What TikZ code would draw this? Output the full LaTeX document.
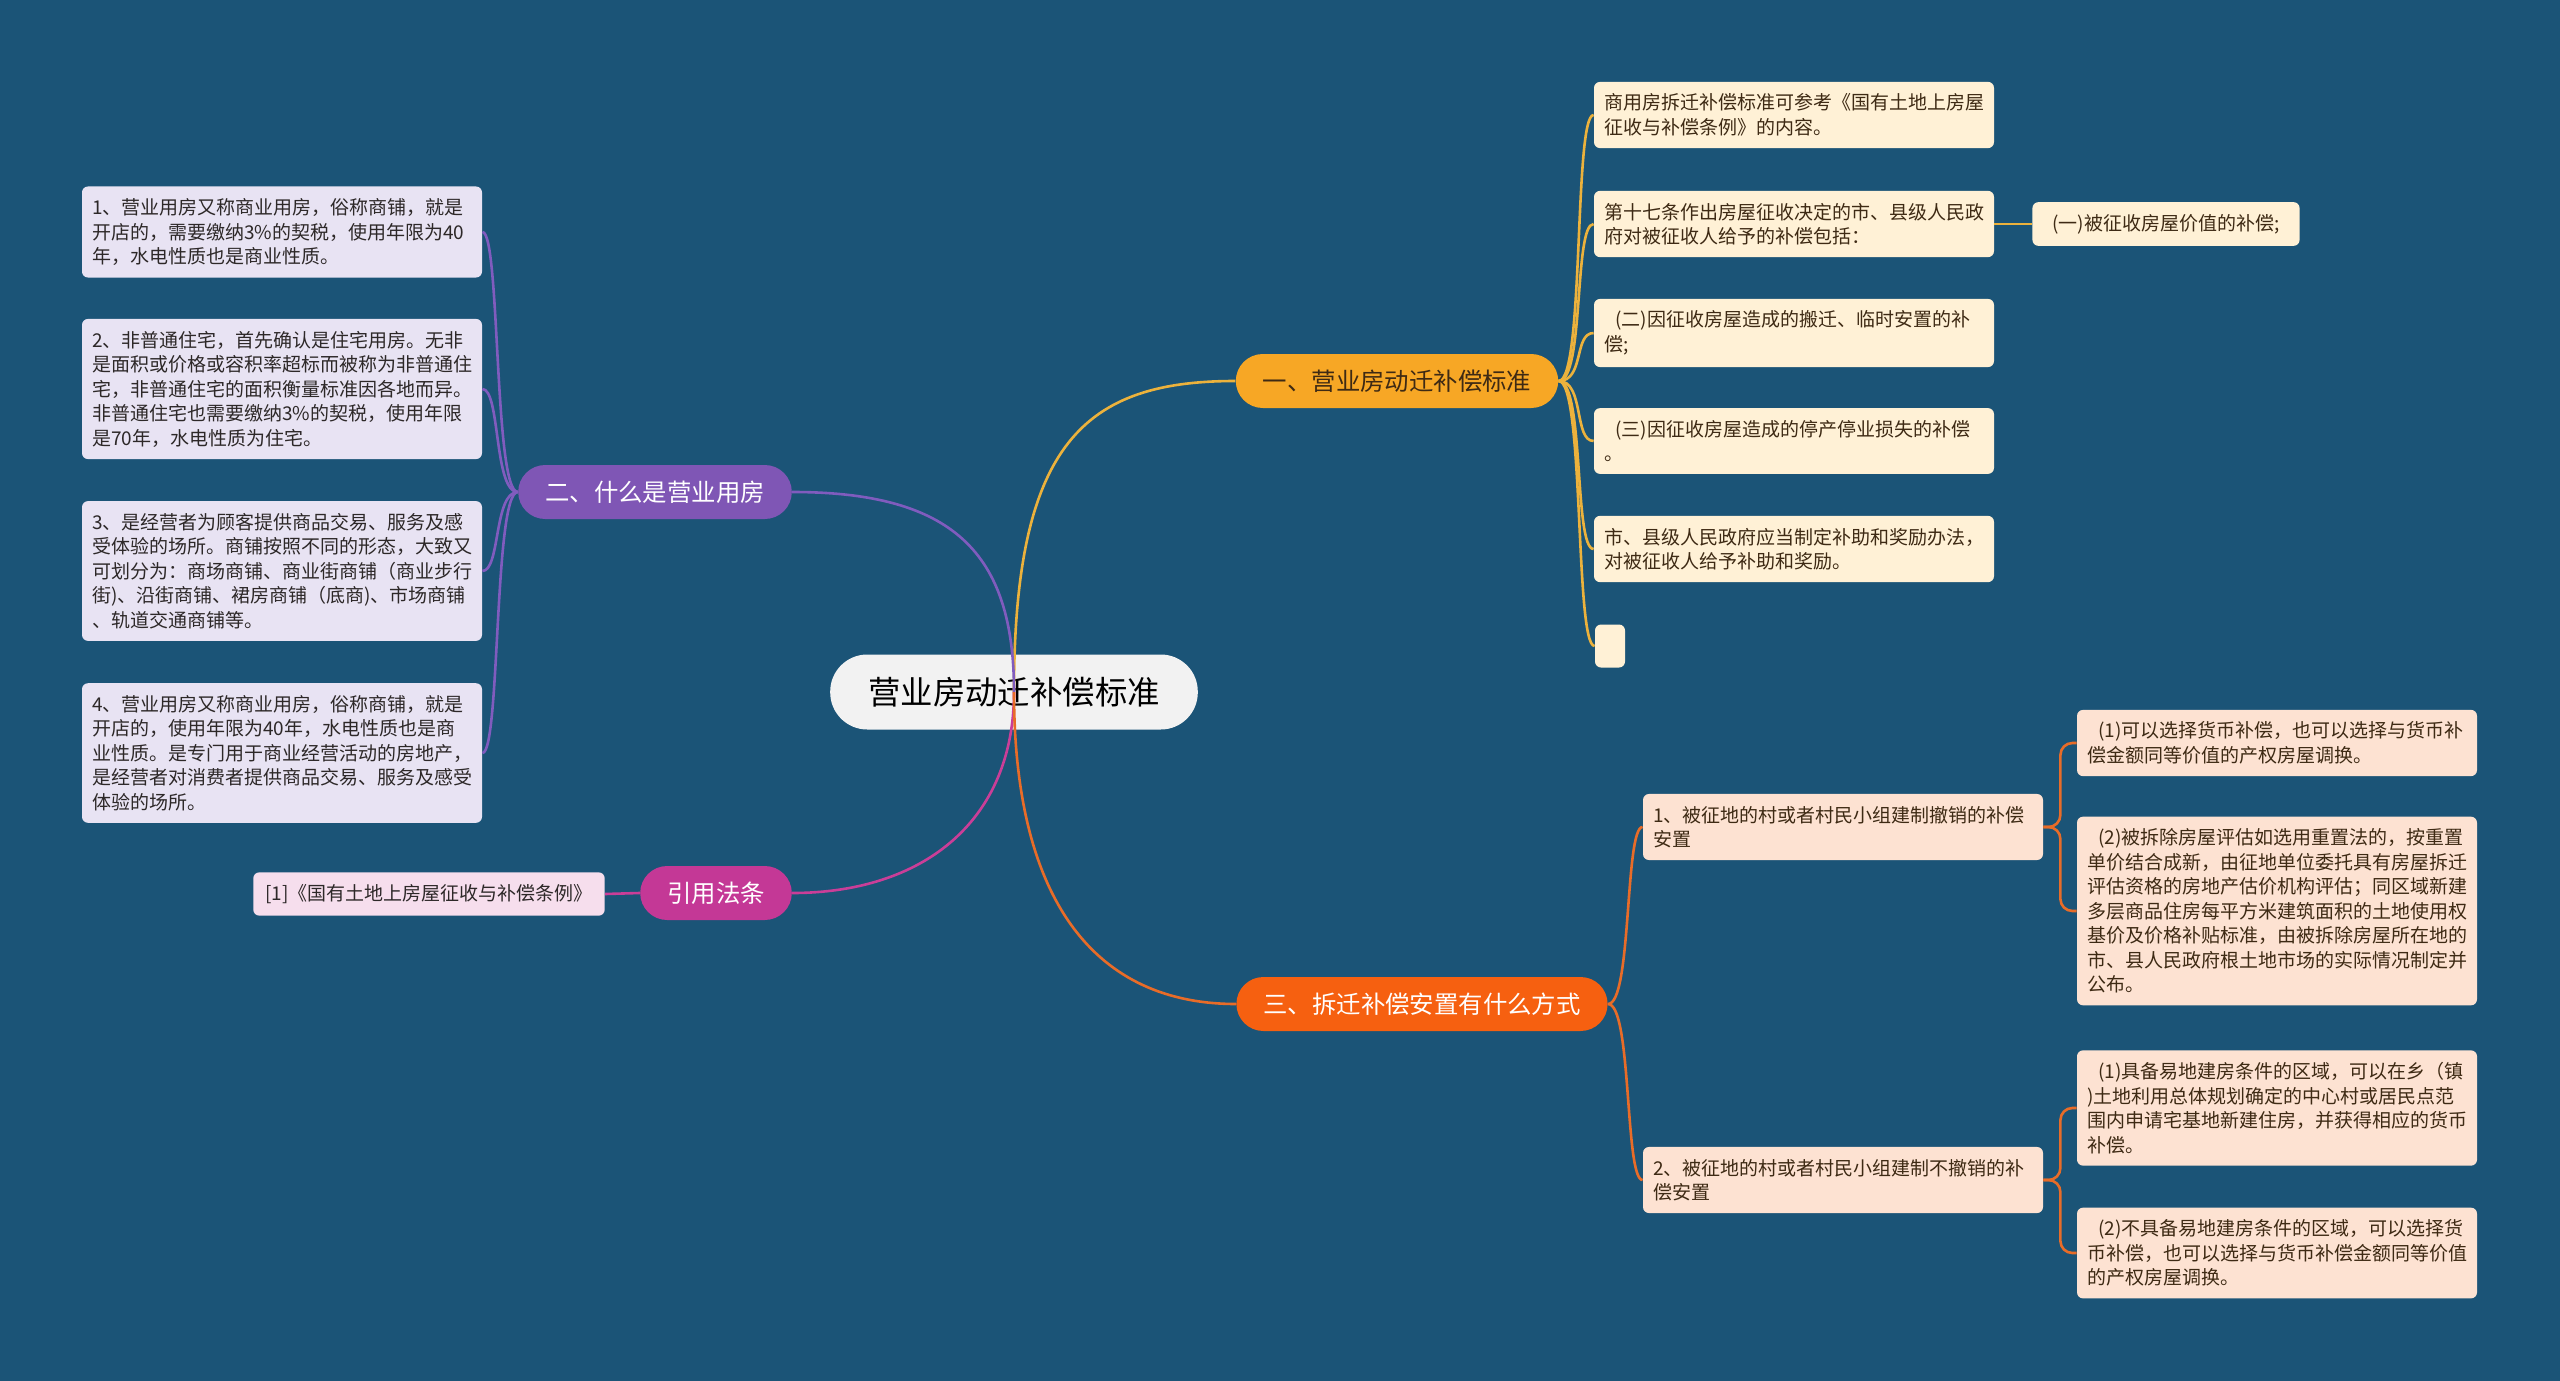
\documentclass[tikz,border=0pt]{standalone}
\usepackage{fontspec}
\setmainfont{Noto Sans CJK SC}
\usepackage{tikz}
\usetikzlibrary{positioning}
\definecolor{BgBlue}{RGB}{27,84,119}
\definecolor{RootGray}{RGB}{242,242,242}
\definecolor{TopicGold}{RGB}{247,167,37}
\definecolor{TopicPurple}{RGB}{127,86,181}
\definecolor{TopicMagenta}{RGB}{196,56,150}
\definecolor{TopicOrange}{RGB}{246,96,16}
\definecolor{LinkGold}{RGB}{236,178,60}
\definecolor{LinkPurple}{RGB}{128,92,190}
\definecolor{LinkMagenta}{RGB}{202,62,152}
\definecolor{LinkOrange}{RGB}{232,108,40}
\definecolor{LeafLavender}{RGB}{232,227,243}
\definecolor{LeafPink}{RGB}{246,222,237}
\definecolor{LeafCream}{RGB}{255,241,214}
\definecolor{LeafPeach}{RGB}{253,226,210}
\definecolor{InkDark}{RGB}{45,40,40}
\definecolor{InkBrown}{RGB}{62,42,20}

\begin{document}
\begin{tikzpicture}[x=0.5pt, y=-0.5pt,
    topic/.style={rounded corners=13.5pt, minimum height=27pt, inner xsep=13.5pt,
      font=\fontsize{12.2}{14}\selectfont},
    leaf/.style={rounded corners=3pt, text width=190pt, align=left, inner xsep=5pt,
      inner ysep=6pt, font=\fontsize{9.5}{12.25}\selectfont},
    leafL/.style={leaf, fill=LeafLavender, text=InkDark},
    leafR/.style={leaf, fill=LeafCream, text=InkBrown},
    leafT/.style={leaf, fill=LeafPeach, text=InkBrown},
    linkA/.style={LinkGold, line width=1.3pt},
    linkB/.style={LinkPurple, line width=1.3pt},
    linkC/.style={LinkMagenta, line width=1.3pt},
    linkD/.style={LinkOrange, line width=1.3pt}]

  % Background
  \fill[BgBlue] (0,0) rectangle (2560,1381);
  \useasboundingbox (0,0) rectangle (2560,1381);

  % Root and main topics
  \node[fill=RootGray, text=black, rounded corners=18.5pt, minimum height=37.5pt,
    inner xsep=19pt, font=\fontsize{16.2}{18}\selectfont] (root) at (1014,692) {营业房动迁补偿标准};
  \node[topic, fill=TopicGold, text=InkBrown] (std) at (1397,381) {一、营业房动迁补偿标准};
  \node[topic, fill=TopicPurple, text=white] (what) at (655,492) {二、什么是营业用房};
  \node[topic, fill=TopicMagenta, text=white] (law) at (716,893) {引用法条};
  \node[topic, fill=TopicOrange, text=white] (way) at (1422,1004) {三、拆迁补偿安置有什么方式};

  % Left side: what is a business house
  \node[leafL] (what1) at (282,232) {1、营业用房又称商业用房，俗称商铺，就是\\开店的，需要缴纳3\%的契税，使用年限为40\\年，水电性质也是商业性质。};
  \node[leafL] (what2) at (282,389) {2、非普通住宅，首先确认是住宅用房。无非\\是面积或价格或容积率超标而被称为非普通住\\宅，非普通住宅的面积衡量标准因各地而异。\\非普通住宅也需要缴纳3\%的契税，使用年限\\是70年，水电性质为住宅。};
  \node[leafL] (what3) at (282,571) {3、是经营者为顾客提供商品交易、服务及感\\受体验的场所。商铺按照不同的形态，大致又\\可划分为：商场商铺、商业街商铺（商业步行\\街)、沿街商铺、裙房商铺（底商)、市场商铺\\、轨道交通商铺等。};
  \node[leafL] (what4) at (282,753) {4、营业用房又称商业用房，俗称商铺，就是\\开店的，使用年限为40年，水电性质也是商\\业性质。是专门用于商业经营活动的房地产，\\是经营者对消费者提供商品交易、服务及感受\\体验的场所。};
  \node[rounded corners=3pt, fill=LeafPink, text=InkDark, inner xsep=6pt, inner ysep=6pt,
    font=\fontsize{9.5}{12.25}\selectfont] (law1) at (429,894) {[1]《国有土地上房屋征收与补偿条例》};

  % Right side: standard
  \node[leafR] (std1) at (1794,115) {商用房拆迁补偿标准可参考《国有土地上房屋\\征收与补偿条例》的内容。};
  \node[leafR] (std2) at (1794,224) {第十七条作出房屋征收决定的市、县级人民政\\府对被征收人给予的补偿包括：};
  \node[leafR] (std3) at (1794,333) {\hspace*{0.6em}(二)因征收房屋造成的搬迁、临时安置的补\\偿;};
  \node[leafR] (std4) at (1794,441) {\hspace*{0.6em}(三)因征收房屋造成的停产停业损失的补偿\\。};
  \node[leafR] (std5) at (1794,549) {市、县级人民政府应当制定补助和奖励办法，\\对被征收人给予补助和奖励。};
  \node[fill=LeafCream, rounded corners=3pt, minimum width=15pt, minimum height=21.5pt,
    inner sep=0pt] (std6) at (1610,646) {};
  \node[fill=LeafCream, text=InkBrown, rounded corners=3pt, inner xsep=10pt, inner ysep=6pt,
    font=\fontsize{9.5}{12.25}\selectfont] (std21) at (2166,224) {(一)被征收房屋价值的补偿;};

  % Right side: ways of resettlement
  \node[leafT] (way1) at (1843,827) {1、被征地的村或者村民小组建制撤销的补偿\\安置};
  \node[leafT] (way2) at (1843,1180) {2、被征地的村或者村民小组建制不撤销的补\\偿安置};
  \node[leafT] (way11) at (2277,743) {\hspace*{0.6em}(1)可以选择货币补偿，也可以选择与货币补\\偿金额同等价值的产权房屋调换。};
  \node[leafT] (way12) at (2277,911) {\hspace*{0.6em}(2)被拆除房屋评估如选用重置法的，按重置\\单价结合成新，由征地单位委托具有房屋拆迁\\评估资格的房地产估价机构评估；同区域新建\\多层商品住房每平方米建筑面积的土地使用权\\基价及价格补贴标准，由被拆除房屋所在地的\\市、县人民政府根土地市场的实际情况制定并\\公布。};
  \node[leafT] (way21) at (2277,1108) {\hspace*{0.6em}(1)具备易地建房条件的区域，可以在乡（镇\\)土地利用总体规划确定的中心村或居民点范\\围内申请宅基地新建住房，并获得相应的货币\\补偿。};
  \node[leafT] (way22) at (2277,1253) {\hspace*{0.6em}(2)不具备易地建房条件的区域，可以选择货\\币补偿，也可以选择与货币补偿金额同等价值\\的产权房屋调换。};

  % Root links
  \draw[linkA] (root.center) .. controls +(0,-250) and +(-150,0) .. (std.west);
  \draw[linkB] (root.center) .. controls +(0,-140) and +(160,0) .. (what.east);
  \draw[linkC] (root.center) .. controls +(0,130) and +(130,0) .. (law.east);
  \draw[linkD] (root.center) .. controls +(0,210) and +(-140,0) .. (way.west);

  % Branch links
  \foreach \n in {std1,std2,std3,std4,std5,std6}
    \draw[linkA] (std.east) .. controls +(26,0) and +(-20,0) .. (\n.west);
  \draw[linkA] (std2.east) -- (std21.west);
  \foreach \n in {what1,what2,what3,what4}
    \draw[linkB] (what.west) .. controls +(-24,0) and +(18,0) .. (\n.east);
  \draw[linkC] (law.west) -- (law1.east);
  \foreach \n in {way1,way2}
    \draw[linkD] (way.east) .. controls +(24,0) and +(-18,0) .. (\n.west);
  \foreach \n in {way11,way12}
    \draw[linkD, rounded corners=6pt] (way1.east) -- ++(17,0) |- (\n.west);
  \foreach \n in {way21,way22}
    \draw[linkD, rounded corners=6pt] (way2.east) -- ++(17,0) |- (\n.west);
\end{tikzpicture}
\end{document}
